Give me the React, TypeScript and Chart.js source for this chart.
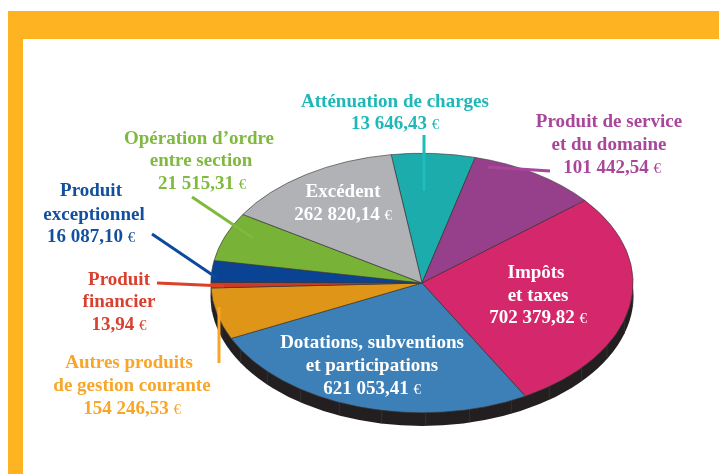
import React, { useEffect, useRef } from "react";
import { Chart, registerables } from "chart.js";

Chart.register(...registerables);

const categories = [
  "Atténuation de charges",
  "Produit de service et du domaine",
  "Impôts et taxes",
  "Dotations, subventions et participations",
  "Autres produits de gestion courante",
  "Produit financier",
  "Produit exceptionnel",
  "Opération d'ordre entre section",
  "Excédent",
];
// Slice sizes as drawn in the picture (degrees), which differ from the printed amounts.
const sliceDegrees = [23, 35.9, 100.2, 94, 23.1, 2.5, 9.7, 21.9, 49.7];
const sliceColors = ["#1dacac", "#96408c", "#d5276b", "#3d80b8", "#de9518", "#d03a25", "#0a4393", "#78b236", "#b1b2b6"];
const amounts = [
  "13 646,43 €",
  "101 442,54 €",
  "702 379,82 €",
  "621 053,41 €",
  "154 246,53 €",
  "13,94 €",
  "16 087,10 €",
  "21 515,31 €",
  "262 820,14 €",
];
const labelLines = [
  ["Atténuation de charges"],
  ["Produit de service", "et du domaine"],
  ["Impôts", "et taxes"],
  ["Dotations, subventions", "et participations"],
  ["Autres produits", "de gestion courante"],
  ["Produit", "financier"],
  ["Produit", "exceptionnel"],
  ["Opération d’ordre", "entre section"],
  ["Excédent"],
];
const labelColors = ["#1fb8b8", "#a8479a", "#ffffff", "#ffffff", "#f8a528", "#d8412f", "#124f9e", "#7fb93d", "#ffffff"];
// [centre x, baseline y] for each text row
const labelAnchors: number[][][] = [
  [[395, 107], [395, 129]],
  [[609, 127], [609, 150], [612, 173]],
  [[536, 278], [538, 301], [538, 323]],
  [[372, 348], [372, 371], [372, 394]],
  [[129, 368], [132, 391], [132, 414]],
  [[119, 285], [119, 307], [119, 330]],
  [[91, 196], [94, 220], [91, 242]],
  [[199, 144], [201, 166], [202, 189]],
  [[343, 197], [343, 220]],
];
const leaderLines: (number[] | null)[] = [
  [424, 135, 424, 191],
  [488, 167, 550, 171],
  null,
  null,
  [219, 307, 219, 363],
  [157, 283, 224, 286],
  [152, 234, 217, 278],
  [192, 197, 253, 238],
  null,
];
const leaderColors = ["#1fbcbc", "#a8479a", "", "", "#f8a528", "#dc4128", "#0b4a9c", "#7fb93d", ""];

const CX = 422;
const CY = 283;
const RX = 211.5;
const RY = 130;
const DEPTH = 13;
const FONT_SIZE = 19;

const ellipsePlugin = {
  id: "ellipsePie",
  beforeDatasetsDraw(chart: any) {
    const ctx: CanvasRenderingContext2D = chart.ctx;
    ctx.save();
    ctx.fillStyle = "#231f20";
    ctx.beginPath();
    ctx.ellipse(CX, CY + DEPTH, RX, RY, 0, 0, Math.PI * 2);
    ctx.fill();
    ctx.strokeStyle = "#3f3b3c";
    ctx.lineWidth = 0.6;
    for (let a = 95; a < 270; a += 12) {
      const r = (a * Math.PI) / 180;
      const x = CX + RX * Math.sin(r);
      const y = CY - RY * Math.cos(r);
      ctx.beginPath();
      ctx.moveTo(x, y);
      ctx.lineTo(x, y + DEPTH);
      ctx.stroke();
    }
    ctx.restore();
    ctx.save();
    ctx.translate(CX, CY);
    ctx.scale(RX / RY, 1);
    ctx.translate(-CX, -CY);
  },
  afterDatasetsDraw(chart: any) {
    const ctx: CanvasRenderingContext2D = chart.ctx;
    ctx.restore();
    ctx.save();
    ctx.lineCap = "butt";
    leaderLines.forEach((l, i) => {
      if (!l) return;
      ctx.strokeStyle = leaderColors[i];
      ctx.lineWidth = 3;
      ctx.beginPath();
      ctx.moveTo(l[0], l[1]);
      ctx.lineTo(l[2], l[3]);
      ctx.stroke();
    });
    ctx.textBaseline = "alphabetic";
    ctx.textAlign = "left";
    categories.forEach((_, i) => {
      const rows = [...labelLines[i], amounts[i]];
      rows.forEach((row, r) => {
        const [x, y] = labelAnchors[i][r];
        ctx.fillStyle = labelColors[i];
        const bold = `bold ${FONT_SIZE}px "Liberation Serif"`;
        const small = `${FONT_SIZE - 4}px "Liberation Serif"`;
        if (row.endsWith(" €")) {
          const main = row.slice(0, -1);
          ctx.font = bold;
          const w1 = ctx.measureText(main).width;
          ctx.font = small;
          const w2 = ctx.measureText("€").width;
          const left = x - (w1 + w2) / 2;
          ctx.font = bold;
          ctx.fillText(main, left, y);
          ctx.font = small;
          ctx.fillText("€", left + w1, y);
        } else {
          ctx.font = bold;
          const w = ctx.measureText(row).width;
          ctx.fillText(row, x - w / 2, y);
        }
      });
    });
    ctx.restore();
  },
};

export default function App() {
  const ref = useRef<HTMLCanvasElement>(null);
  useEffect(() => {
    const chart = new Chart(ref.current!, {
      type: "pie",
      data: {
        labels: categories,
        datasets: [
          {
            data: sliceDegrees,
            backgroundColor: sliceColors,
            borderColor: "#3a3a3a",
            borderWidth: 0.5,
            clip: false,
          } as any,
        ],
      },
      options: {
        animation: false,
        responsive: false,
        rotation: -8.4,
        events: [],
        layout: {
          padding: { left: CX - RY, right: 719 - CX - RY, top: CY - RY, bottom: 474 - CY - RY },
        },
        plugins: { legend: { display: false }, tooltip: { enabled: false } },
      },
      plugins: [ellipsePlugin],
    });
    return () => chart.destroy();
  }, []);
  return (
    <div style={{ position: "fixed", left: 0, top: 0, width: 719, height: 474, background: "#fff", overflow: "hidden" }}>
      <div style={{ position: "absolute", left: 8, top: 11, right: 0, height: 28, background: "#fdb322" }} />
      <div style={{ position: "absolute", left: 8, top: 11, bottom: 0, width: 15, background: "#fdb322" }} />
      <canvas ref={ref} width={719} height={474} style={{ position: "absolute", left: 0, top: 0 }} />
    </div>
  );
}
